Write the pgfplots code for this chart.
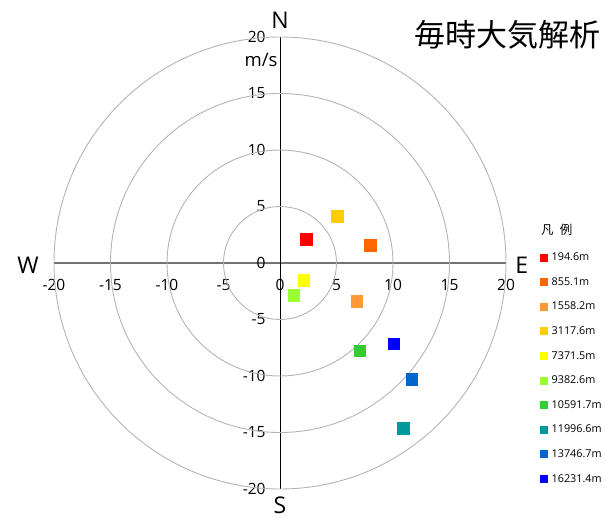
\documentclass[border=0pt]{standalone}
\usepackage{pgfplots}
\pgfplotsset{compat=1.18}
\usepackage{fontspec}
\setmainfont{Open Sans}
\newfontfamily\cjk{Noto Sans CJK JP}

\definecolor{h1}{HTML}{FF0000}
\definecolor{h2}{HTML}{FF6600}
\definecolor{h3}{HTML}{FF9933}
\definecolor{h4}{HTML}{FFCC00}
\definecolor{h5}{HTML}{FFFF00}
\definecolor{h6}{HTML}{99FF33}
\definecolor{h7}{HTML}{33CC33}
\definecolor{h8}{HTML}{009999}
\definecolor{h9}{HTML}{0066CC}
\definecolor{h10}{HTML}{0000FF}
\definecolor{ringgray}{HTML}{B4B4B4}

\begin{document}
\begin{tikzpicture}
\useasboundingbox (-280bp,-255bp) rectangle (326bp,263bp);
\begin{axis}[
  anchor=origin, at={(0,0)},
  x=11.3bp, y=11.3bp,
  xmin=-20, xmax=20, ymin=-20, ymax=20,
  axis lines=center,
  x axis line style={-, draw=gray!90!black, line width=1.6bp},
  y axis line style={-, draw=black, line width=0.8bp},
  xtick={-20,-15,...,20}, ytick={-20,-15,...,20},
  hide obscured x ticks=false, hide obscured y ticks=false,
  major tick length=0pt,
  /pgf/number format/assume math mode=true,
  ticklabel style={font=\fontsize{15.5bp}{18bp}\selectfont},
  xticklabel style={yshift=-13bp},
  yticklabel style={xshift=-11bp},
  clip=false,
  legend cell align=left,
  legend style={draw=none, fill=none, inner sep=0pt,
    anchor=north west, at={(axis cs:23.05,0.84)},
    row sep=17.6bp, column sep=4bp,
    nodes={inner sep=0pt, text height=7bp, text depth=0bp,
      font=\fontsize{10.8bp}{13bp}\selectfont}},
  legend image code/.code={\draw[#1, mark size=3.5bp] plot coordinates {(0bp,0bp)};},
]
% range rings
\pgfplotsinvokeforeach{5,10,15,20}{
  \draw[ringgray, line width=0.9bp] (axis cs:0,0) circle [radius=#1];
}

\addplot[only marks, mark=square*, mark size=5.8bp, color=h1] coordinates {(2.3,2.1)};
\addlegendentry{194.6m}
\addplot[only marks, mark=square*, mark size=5.8bp, color=h2] coordinates {(8.0,1.6)};
\addlegendentry{855.1m}
\addplot[only marks, mark=square*, mark size=5.8bp, color=h3] coordinates {(6.8,-3.4)};
\addlegendentry{1558.2m}
\addplot[only marks, mark=square*, mark size=5.8bp, color=h4] coordinates {(5.05,4.15)};
\addlegendentry{3117.6m}
\addplot[only marks, mark=square*, mark size=5.8bp, color=h5] coordinates {(2.1,-1.5)};
\addlegendentry{7371.5m}
\addplot[only marks, mark=square*, mark size=5.8bp, color=h6] coordinates {(1.2,-2.85)};
\addlegendentry{9382.6m}
\addplot[only marks, mark=square*, mark size=5.8bp, color=h7] coordinates {(7.05,-7.75)};
\addlegendentry{10591.7m}
\addplot[only marks, mark=square*, mark size=5.8bp, color=h8] coordinates {(10.9,-14.6)};
\addlegendentry{11996.6m}
\addplot[only marks, mark=square*, mark size=5.8bp, color=h9] coordinates {(11.65,-10.3)};
\addlegendentry{13746.7m}
\addplot[only marks, mark=square*, mark size=5.8bp, color=h10] coordinates {(10.05,-7.15)};
\addlegendentry{16231.4m}

% compass letters, unit, titles
\node[font=\fontsize{23bp}{26bp}\selectfont] at (axis cs:0,21.5) {N};
\node[font=\fontsize{23bp}{26bp}\selectfont] at (axis cs:0,-21.4) {S};
\node[font=\fontsize{23bp}{26bp}\selectfont] at (axis cs:-22.3,-0.2) {W};
\node[font=\fontsize{23bp}{26bp}\selectfont] at (axis cs:21.4,-0.2) {E};
\node[anchor=east, inner sep=0pt, font=\fontsize{18.5bp}{20bp}\selectfont] at (axis cs:-0.2,18.0) {m/s};
\node[anchor=east, inner sep=0pt, font=\cjk\fontsize{31bp}{34bp}\selectfont] at (axis cs:28.4,20.2) {毎時大気解析};
\node[font=\cjk\fontsize{12.5bp}{14bp}\selectfont] at (axis cs:24.5,2.95) {凡\hspace{0.5em}例};
\end{axis}
\end{tikzpicture}
\end{document}
